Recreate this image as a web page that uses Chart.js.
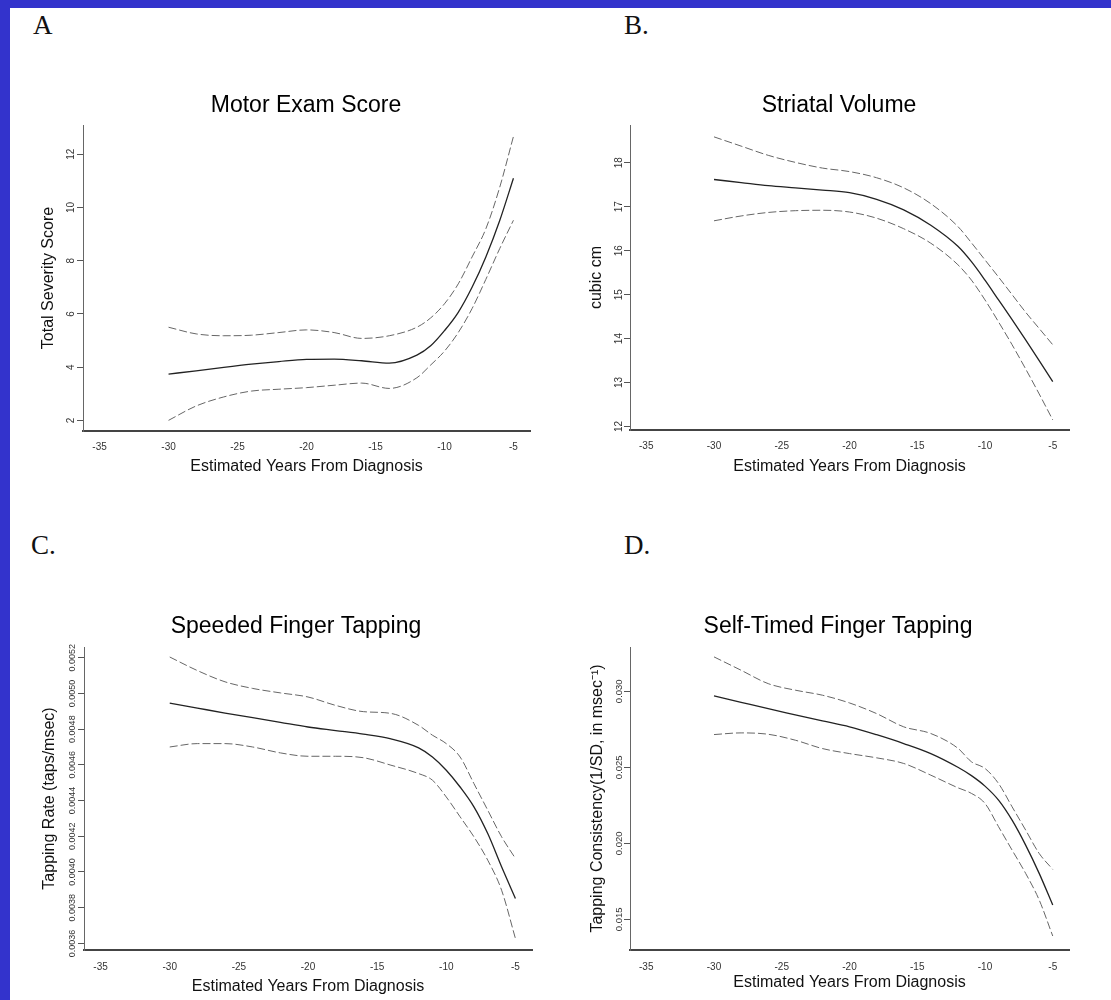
<!DOCTYPE html>
<html>
<head>
<meta charset="utf-8">
<script src="https://cdn.jsdelivr.net/npm/chart.js@4.4.1/dist/chart.umd.min.js"></script>
<style>
  html, body { margin: 0; padding: 0; }
  body { width: 1111px; height: 1000px; background: #3333cc; position: relative; overflow: hidden; }
  #sheet { position: absolute; left: 10px; top: 8px; right: 0; bottom: 0; background: #fff; }
  .tag { position: absolute; font: 27px/1 'Liberation Serif', 'Times New Roman', serif; color: #111; }
  canvas { position: absolute; }
</style>
</head>
<body>
<div id="sheet"></div>
<div class="tag" style="left:33px;top:12px">A</div>
<div class="tag" style="left:624px;top:12px">B.</div>
<div class="tag" style="left:31px;top:532px">C.</div>
<div class="tag" style="left:624px;top:532px">D.</div>
<canvas id="cA"></canvas>
<canvas id="cB"></canvas>
<canvas id="cC"></canvas>
<canvas id="cD"></canvas>
<script>
/* Curvas de progresion: ajuste (linea) y banda de confianza (trazos). */

// eje x comun: anos estimados hasta el diagnostico
const years = [-30, -28, -26, -24, -22, -20, -18, -16, -14, -12, -11, -10, -9, -8, -7, -6, -5];
const xTicks = [-35, -30, -25, -20, -15, -10, -5];

// A. Motor Exam Score
const motorFit   = [3.74, 3.86, 3.99, 4.11, 4.21, 4.29, 4.30, 4.24, 4.15, 4.45, 4.80, 5.37, 6.06, 7.00, 8.14, 9.50, 11.10];
const motorUpper = [5.50, 5.25, 5.18, 5.20, 5.30, 5.40, 5.30, 5.08, 5.18, 5.50, 5.85, 6.38, 7.13, 8.14, 9.20, 10.75, 12.67];
const motorLower = [2.00, 2.54, 2.88, 3.10, 3.17, 3.23, 3.32, 3.40, 3.20, 3.60, 4.08, 4.60, 5.30, 6.20, 7.30, 8.45, 9.52];
const motorTicks = [2, 4, 6, 8, 10, 12];

// B. Striatal Volume
const striatalFit   = [17.62, 17.55, 17.48, 17.43, 17.38, 17.32, 17.17, 16.93, 16.58, 16.10, 15.75, 15.33, 14.88, 14.43, 13.97, 13.50, 13.02];
const striatalUpper = [18.59, 18.38, 18.17, 18.01, 17.88, 17.80, 17.66, 17.43, 17.07, 16.55, 16.18, 15.79, 15.40, 15.00, 14.60, 14.23, 13.86];
const striatalLower = [16.68, 16.79, 16.87, 16.91, 16.92, 16.88, 16.74, 16.50, 16.17, 15.68, 15.33, 14.88, 14.38, 13.86, 13.31, 12.74, 12.15];
const striatalTicks = [12, 13, 14, 15, 16, 17, 18];

// C. Speeded Finger Tapping
const speedFit   = [0.004946, 0.004918, 0.004890, 0.004864, 0.004838, 0.004812, 0.004792, 0.004772, 0.004745, 0.004695, 0.004644, 0.004570, 0.004476, 0.004365, 0.004215, 0.004029, 0.003852];
const speedUpper = [0.005204, 0.005128, 0.005065, 0.005028, 0.005003, 0.004980, 0.004933, 0.004898, 0.004888, 0.004821, 0.004766, 0.004719, 0.004644, 0.004495, 0.004346, 0.004197, 0.004076];
const speedLower = [0.004700, 0.004719, 0.004719, 0.004700, 0.004667, 0.004648, 0.004648, 0.004640, 0.004598, 0.004551, 0.004514, 0.004420, 0.004309, 0.004197, 0.004066, 0.003898, 0.003628];
const speedTicks = [0.0036, 0.0038, 0.0040, 0.0042, 0.0044, 0.0046, 0.0048, 0.0050, 0.0052];

// D. Self-Timed Finger Tapping
const selfFit   = [0.02969, 0.02927, 0.02885, 0.02845, 0.02805, 0.02766, 0.02714, 0.02656, 0.02590, 0.02500, 0.02445, 0.02376, 0.02284, 0.02152, 0.01988, 0.01802, 0.01594];
const selfUpper = [0.03226, 0.03138, 0.03050, 0.03007, 0.02974, 0.02923, 0.02853, 0.02766, 0.02722, 0.02625, 0.02536, 0.02492, 0.02393, 0.02240, 0.02087, 0.01933, 0.01828];
const selfLower = [0.02715, 0.02726, 0.02717, 0.02678, 0.02623, 0.02590, 0.02562, 0.02525, 0.02448, 0.02365, 0.02328, 0.02262, 0.02109, 0.01955, 0.01802, 0.01627, 0.01390];
const selfTicks = [0.015, 0.020, 0.025, 0.030];

const FAMILY = "'Liberation Sans', Arial, sans-serif";
Chart.defaults.font.family = FAMILY;

// mueve el titulo del grafico a un centro x dado (en px del canvas)
const titleAt = {
  id: 'titleAt',
  afterLayout(chart, args, opts) {
    const t = chart.titleBlock;
    if (!t || opts.x == null) return;
    t.left = opts.x - 260; t.right = opts.x + 260;
  },
};

// g: caja del grafico en px de la pagina (L,R,T,B), centros de titulos y distancias de etiquetas
const panels = [
  { id: 'cA', title: 'Motor Exam Score', yTitle: 'Total Severity Score',
    fit: motorFit, upper: motorUpper, lower: motorLower, yTicks: motorTicks, dec: 0, yMin: 1.6, yMax: 13.1, tickFont: 10,
    g: { L: 83, R: 530, T: 125, B: 431, tY: 106, tX: 306, yT: 49, yD: 12, xD: 16, xT: 36 } },
  { id: 'cB', title: 'Striatal Volume', yTitle: 'cubic cm',
    fit: striatalFit, upper: striatalUpper, lower: striatalLower, yTicks: striatalTicks, dec: 0, yMin: 11.92, yMax: 18.86, tickFont: 10,
    g: { L: 630, R: 1069, T: 125, B: 430, tY: 106, tX: 839, yT: 597, yD: 10.5, xD: 16, xT: 37 } },
  { id: 'cC', title: 'Speeded Finger Tapping', yTitle: 'Tapping Rate (taps/msec)',
    fit: speedFit, upper: speedUpper, lower: speedLower, yTicks: speedTicks, dec: 4, yMin: 0.003563, yMax: 0.00526, tickFont: 9,
    g: { L: 84, R: 532, T: 647, B: 950, tY: 627, tX: 296, yT: 50, yD: 11.5, xD: 17, xT: 37 } },
  { id: 'cD', title: 'Self-Timed Finger Tapping', yTitle: 'Tapping Consistency(1/SD, in msec\u207B\u00B9)',
    fit: selfFit, upper: selfUpper, lower: selfLower, yTicks: selfTicks, dec: 3, yMin: 0.01298, yMax: 0.03291, tickFont: 9.5,
    g: { L: 630, R: 1069, T: 647, B: 950, tY: 627, tX: 838, yT: 598, yD: 11, xD: 17, xT: 33 } },
];

function dibujar(p) {
  const g = p.g;
  const cl = Math.round(g.yT - 14), ct = Math.round(g.tY - 16);
  const cr = g.R + 12, cb = Math.round(g.B + g.xT + 12);
  const cv = document.getElementById(p.id);
  cv.width = cr - cl; cv.height = cb - ct;
  cv.style.left = cl + 'px'; cv.style.top = ct + 'px';

  const ctx = cv.getContext('2d');
  ctx.font = p.tickFont + 'px ' + FAMILY;
  const widest = Math.max(...p.yTicks.map(v => ctx.measureText(v.toFixed(p.dec)).width));

  const pts = ys => years.map((x, i) => ({ x, y: ys[i] }));
  const band = { borderColor: '#666', borderWidth: 1, borderDash: [8, 3] };

  new Chart(cv, {
    type: 'line',
    data: { datasets: [
      Object.assign({ data: pts(p.upper) }, band),
      { data: pts(p.fit), borderColor: '#222', borderWidth: 1.3 },
      Object.assign({ data: pts(p.lower) }, band),
    ] },
    options: {
      responsive: false, animation: false, devicePixelRatio: 1,
      elements: { point: { radius: 0 }, line: { cubicInterpolationMode: 'monotone' } },
      layout: { padding: { left: 0, top: 0, right: cr - g.R, bottom: 0 } },
      plugins: {
        legend: { display: false }, tooltip: { enabled: false },
        title: { display: true, text: p.title, color: '#000', font: { size: 23, weight: 'normal' },
          padding: { top: g.tY - 13.8 - ct, bottom: g.T - g.tY - 13.8 } },
        titleAt: { x: g.tX - cl },
      },
      scales: {
        x: { type: 'linear', min: -36.2, max: -3.8,
          afterBuildTicks: s => { s.ticks = xTicks.map(value => ({ value })); },
          afterFit: s => { s.height = cb - g.B; },
          grid: { display: false, drawTicks: false },
          border: { display: true, color: '#444', width: 2 },
          ticks: { color: '#333', font: { size: 10 }, padding: g.xD - 6, maxRotation: 0, autoSkip: false },
          title: { display: true, text: 'Estimated Years From Diagnosis', color: '#111', font: { size: 16 },
            padding: { top: 0, bottom: cb - g.B - g.xT - 9.6 } } },
        y: { min: p.yMin, max: p.yMax,
          afterBuildTicks: s => { s.ticks = p.yTicks.map(value => ({ value })); },
          afterFit: s => { s.width = g.L - cl; },
          grid: { drawOnChartArea: false, drawTicks: true, tickLength: 6, color: '#555' },
          border: { display: true, color: '#666', width: 1 },
          ticks: { color: '#333', font: { size: p.tickFont }, minRotation: 90, maxRotation: 90, crossAlign: 'center',
            padding: g.yD - 6 - widest / 2, autoSkip: false, callback: v => v.toFixed(p.dec) },
          title: { display: true, text: p.yTitle, color: '#111', font: { size: 16 },
            padding: { top: g.yT - cl - 9.6, bottom: 0 } } },
      },
    },
    plugins: [titleAt],
  });
}

panels.forEach(dibujar);
</script>
</body>
</html>
